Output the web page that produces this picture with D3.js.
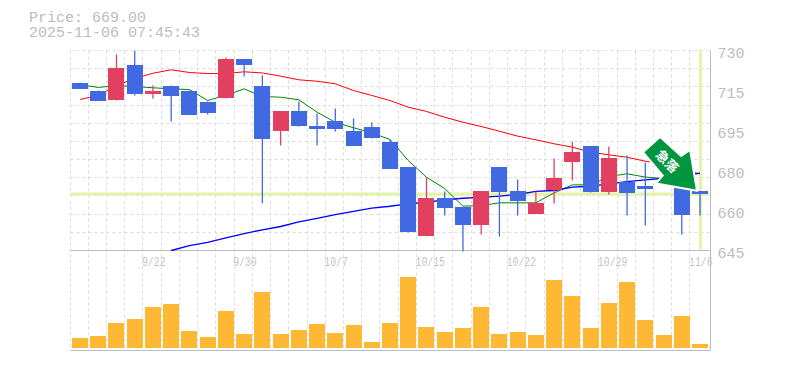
<!DOCTYPE html>
<html><head><meta charset="utf-8">
<style>html,body{margin:0;padding:0;background:#fff}svg{display:block}text{font-family:"Liberation Mono",monospace;fill:#bdbdbd}</style>
<script src="https://cdn.jsdelivr.net/npm/d3@7"></script></head><body><div id="c"></div>
<script>
const dates=["9/16","9/17","9/18","9/19","9/20","9/22","9/23","9/24","9/25","9/26","9/29","9/30","10/1","10/2","10/3","10/6","10/7","10/8","10/9","10/10","10/14","10/15","10/16","10/17","10/20","10/21","10/22","10/23","10/24","10/27","10/28","10/29","10/30","10/31","11/6"];
const tickIdx=[4,9,14,19,24,29,34];
const tickLabels=["9/22","9/30","10/7","10/15","10/22","10/29","11/6"];
const yTicks=[730,713,696,679,662,645];
const yTickLabels=["730","715","695","680","660","645"];
const openP=[716.4,713.0,708.75,724.05,711.7,715.1,713.0,708.3,709.6,726.2,715.1,695.6,704.1,698.1,700.25,696.0,697.3,691.3,680.3,651.0,667.1,663.3,655.6,680.3,670.1,660.7,671.0,682.8,689.2,669.65,674.3,672.2,687.5,672.2,670.1];
const closeP=[713.85,708.75,722.35,711.7,713.0,710.9,702.8,703.65,726.2,723.6,692.7,704.1,697.7,696.85,696.85,689.6,692.6,679.85,652.65,667.1,662.85,655.6,670.1,669.65,665.8,665.4,676.0,687.0,669.65,684.1,669.65,670.9,682.0,659.9,668.8];
const highP=[716.4,713.0,728.3,730.0,715.1,715.1,713.0,708.3,727.0,726.2,719.4,704.1,708.3,703.2,705.35,701.1,699.4,692.2,680.3,676.0,670.1,663.3,670.1,680.3,675.2,670.1,684.1,691.3,689.2,689.2,685.4,682.4,687.5,672.2,670.1];
const lowP=[713.85,708.75,708.75,710.9,709.6,699.8,702.8,702.8,709.6,719.0,665.0,689.6,697.7,689.6,695.6,689.6,692.6,679.85,652.65,651.0,659.9,644.6,651.8,650.95,659.9,660.7,665.0,674.8,669.65,668.8,659.9,655.6,682.0,651.8,659.9];
const maShort=[715.55,714.3,715.1,714.7,714.15,713.7,713.4,708.75,711.0,713.7,710.45,710.15,709.05,703.8,699.5,697.15,695.0,692.2,683.25,676.15,671.35,663.85,664.1,665.25,665.25,665.25,669.5,672.9,672.9,676.45,677.6,676.2,675.6,672.6,669.65];
const maLong=[709.2,710.9,715.1,718.1,720.35,721.8,720.65,720.2,720.2,720.95,720.45,719.1,717.55,716.95,715.85,713.0,710.9,708.75,705.9,704.1,701.65,699.5,697.7,695.7,693.6,692.05,690.35,688.9,686.8,685.65,684.65,682.95,682.0,679.4,677.6];
const maTrend=[null,null,null,null,null,645.0,647.1,648.5,650.4,652.2,653.8,655.2,657.2,658.7,660.2,661.6,663.0,663.8,664.8,665.5,666.5,667.2,667.6,668.1,668.8,670.1,670.5,671.9,672.3,673.3,674.3,675.0,675.7,676.4,677.9];
const volumes=[10,12,25,29,41,44,17,11,37,14,56,14,18,24,15,23,6,25,71,21,16,20,41,14,16,13,68,52,20,45,66,28,13,32,4];
const lastPrice=669;
const header=["Price: 669.00","2025-11-06 07:45:43"];

const W=785,H=370,L=70.5,R=710.5,T=50.5,PB=250.5,VB=350.5;
const svg=d3.select("#c").append("svg").attr("width",W).attr("height",H);
const idx=d3.range(dates.length);
const x=d3.scaleBand().domain(idx).range([L,L+18.235*35]);
const center=i=>x(i)+x.bandwidth()/2+0.4;
const y=d3.scaleLinear().domain([645,730]).range([PB,T]);
const v=d3.scaleLinear().domain([0,72]).range([348,276]);
const grid="#dcdcdc",axisC="#bdbdbd";

const g=svg.append("g");
g.append("g").selectAll("line").data(idx).join("line")
 .attr("x1",d=>Math.round(x(d))-.5).attr("x2",d=>Math.round(x(d))-.5).attr("y1",T).attr("y2",VB-1)
 .attr("stroke",grid).attr("stroke-dasharray","3,3");
const hTicks=d3.range(0,12).map(i=>645+i*85/11);
g.append("g").selectAll("line").data(hTicks).join("line")
 .attr("x1",L).attr("x2",R).attr("y1",d=>Math.round(y(d)-.5)+.5).attr("y2",d=>Math.round(y(d)-.5)+.5)
 .attr("stroke",grid).attr("stroke-dasharray","3,3");
const hl="#e3f4a6";
g.append("line").attr("x1",L).attr("x2",R-1).attr("y1",y(lastPrice)).attr("y2",y(lastPrice)).attr("stroke",hl).attr("stroke-width",3);
g.append("line").attr("x1",center(34)+.5).attr("x2",center(34)+.5).attr("y1",T).attr("y2",PB-1).attr("stroke",hl).attr("stroke-width",3);
g.append("path").attr("d",`M${L},${PB}H${R}M${L},${VB}H${R}M${R},${T}V${VB}`).attr("fill","none").attr("stroke",axisC).attr("stroke-width",1);
const yAxis=d3.axisRight(y).tickValues(yTicks).tickSize(0).tickPadding(8).tickFormat((d,i)=>yTickLabels[i]);
const ya=svg.append("g").attr("transform",`translate(${R-1},2.5)`).call(yAxis);
ya.select(".domain").remove();
ya.selectAll("text").attr("font-size",15).style("font-family",'"Liberation Mono",monospace').style("fill","#bdbdbd");
const xAxis=d3.axisBottom(x).tickValues(tickIdx).tickSize(0).tickPadding(0).tickFormat(d=>tickLabels[tickIdx.indexOf(d)]);
const xa=svg.append("g").attr("transform",`translate(0.4,${PB})`).call(xAxis);
xa.select(".domain").remove();
xa.selectAll("text").attr("font-size",12).attr("text-anchor","start").attr("x",-11).attr("y",15.5).attr("dy",null)
 .style("font-family",'"Liberation Mono",monospace').style("fill","#c4c4c4")
 .attr("lengthAdjust","spacingAndGlyphs").attr("textLength",d=>tickLabels[tickIdx.indexOf(d)].length*5.9);
svg.append("g").selectAll("text").data(header).join("text").attr("x",29).attr("y",(d,i)=>22+i*15).attr("font-size",15).text(d=>d);
const lineGen=d3.line().defined(d=>d[1]!=null).x(d=>center(d[0])).y(d=>y(d[1]));
[[maLong,"#f00"],[maShort,"#080"],[maTrend,"#00f"]].forEach(([a,c])=>{
 g.append("path").datum(a.map((d,i)=>[i,d])).attr("d",lineGen).attr("fill","none").attr("stroke",c).attr("stroke-width",c=="#00f"?1.3:1);
});
const up="#e24060",dn="#4169e1";
const col=i=>closeP[i]<openP[i]?dn:up;
const cg=g.append("g");
cg.selectAll("line").data(idx).join("line")
 .attr("x1",center).attr("x2",center).attr("y1",d=>y(highP[d])).attr("y2",d=>y(lowP[d]))
 .attr("stroke",col).attr("stroke-width",1.3);
cg.selectAll("rect").data(idx).join("rect")
 .attr("x",d=>Math.round(center(d)-8)).attr("width",16)
 .attr("y",d=>Math.round(y(Math.max(openP[d],closeP[d])))).attr("height",d=>Math.max(3,Math.round(Math.abs(y(openP[d])-y(closeP[d])))))
 .attr("fill",col);
g.append("g").selectAll("rect").data(idx).join("rect")
 .attr("x",d=>Math.round(center(d)-8)).attr("width",16)
 .attr("y",d=>v(volumes[d])).attr("height",d=>v(0)-v(volumes[d])).attr("fill","#ffb833");
const arrowShape=[[-35.7,-51.3],[-51.4,-37.3],[-31.7,-14],[-38,-6.7],[0,0],[-6.4,-38],[-14.7,-32.3]];
const ag=svg.append("g").attr("transform",`translate(${center(33)+14},${y(lastPrice)-4.5})`);
ag.append("path").attr("d",d3.line()(arrowShape)+"Z").attr("fill","none").attr("stroke","#fff").attr("stroke-width",4);
ag.append("path").attr("d",d3.line()(arrowShape)+"Z").attr("fill","#00963f");
ag.append("text").attr("transform","translate(-28.7,-28) rotate(45)").attr("text-anchor","middle").attr("dy","0.35em")
 .attr("font-size",13).attr("font-weight","bold").style("font-family",'"Noto Sans CJK JP"').style("fill","#fff").text("急落");
</script></body></html>
